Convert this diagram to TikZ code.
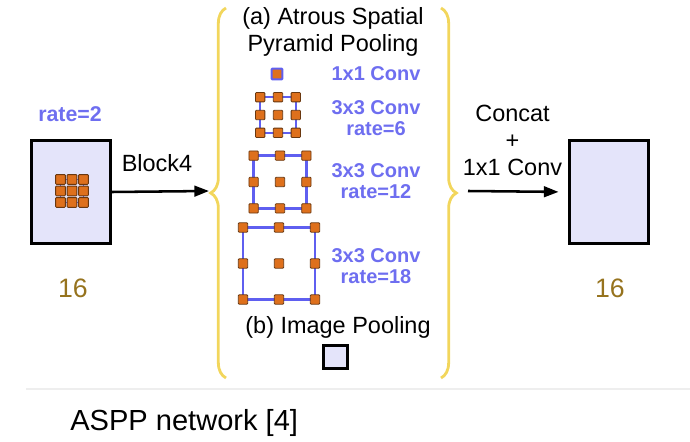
\documentclass[tikz,border=0pt]{standalone}
\usepackage{fontspec}
\setmainfont{Liberation Sans}
\usetikzlibrary{arrows.meta,decorations.pathreplacing}
\definecolor{mapfill}{RGB}{228,228,250}
\definecolor{taporange}{RGB}{222,112,28}
\definecolor{tapedge}{RGB}{105,55,15}
\definecolor{gridblue}{RGB}{95,95,240}
\definecolor{convblue}{RGB}{110,110,240}
\definecolor{sizebrown}{RGB}{150,115,30}
\definecolor{braceyellow}{RGB}{242,214,92}
\definecolor{sepgray}{RGB}{238,238,238}

\begin{document}
\begin{tikzpicture}[x=0.75pt,y=-0.75pt,
	featmap/.style={draw=black,line width=2.2pt,fill=mapfill,inner sep=0pt},
	tap/.style={draw=tapedge,fill=taporange,line width=0.6pt,minimum size=7pt,inner sep=0pt,rounded corners=0.6pt},
	tapline/.style={draw=gridblue,line width=1.7pt},
	convlbl/.style={text=convblue,font=\bfseries\fontsize{15}{16.2}\selectfont,align=center},
	plainlbl/.style={font=\fontsize{17.6}{20.3}\selectfont,align=center},
	sizelbl/.style={text=sizebrown,font=\fontsize{20}{24}\selectfont},
	fwd/.style={line width=1.9pt,-{Triangle[length=11pt,width=8pt]}},
	branch/.style={draw=braceyellow,line width=2.1pt,decorate,decoration={brace,amplitude=11.5pt}}]
	\useasboundingbox (0,0) rectangle (690,442);
	\node[featmap,minimum width=59.5pt,minimum height=77.5pt] (inmap) at (71,192) {};
	\draw[draw=gridblue,line width=0.6pt] (60.5,179.5) rectangle (83.5,202.5);
	\foreach \i in {-1,0,1}
		\foreach \j in {-1,0,1}
			\node[tap,minimum size=7.3pt] (r2\i\j) at (72+11.5*\i,191+11.5*\j) {};
	\node[convlbl,font=\bfseries\fontsize{16}{18}\selectfont] (ratein) at (70,114) {rate=2};
	\node[sizelbl] (insize) at (73,288) {16};
	\coordinate (lbtip) at (209,191);
	\draw[fwd] (inmap.east) -- (lbtip);
	\node[plainlbl] (blocklbl) at (157,163) {Block4};
	\draw[branch] (226,378) -- (226,8);
	\node[plainlbl] (asppttl) at (333,32) {(a) Atrous Spatial\\Pyramid Pooling};
	\node[tap,draw=gridblue,line width=1.6pt,minimum size=8pt] (r1) at (277,74) {};
	\foreach \nm/\cx/\cy/\s in {r6/278/115/17.8, r12/280/182/26.4, r18/279/263.5/36}{
		\draw[tapline] (\cx-\s,\cy-\s) rectangle (\cx+\s,\cy+\s);
		\foreach \i in {-1,0,1}
			\foreach \j in {-1,0,1}
				\node[tap] (\nm\i\j) at (\cx+\s*\i,\cy+\s*\j) {};
	}
	\node[convlbl] (c1lbl) at (376,74) {1x1 Conv};
	\node[convlbl] (c6lbl) at (376,118) {3x3 Conv\\rate=6};
	\node[convlbl] (c12lbl) at (376,181) {3x3 Conv\\rate=12};
	\node[convlbl] (c18lbl) at (376,266) {3x3 Conv\\rate=18};
	\node[plainlbl] (poolttl) at (338,327) {(b) Image Pooling};
	\node[featmap,minimum width=18.5pt,minimum height=17.5pt] (poolmap) at (335.5,357) {};
	\draw[branch] (441,8) -- (441,378);
	\coordinate (rbtip) at (468,191);
	\node[plainlbl] (mergelbl) at (512.5,140) {Concat\\+\\1x1 Conv};
	\node[featmap,minimum width=59.5pt,minimum height=77.5pt] (outmap) at (609,192) {};
	\draw[fwd,shorten >=7pt] (rbtip) -- (outmap.west);
	\node[sizelbl] (outsize) at (610,288) {16};
	\draw[sepgray,line width=1.5pt] (26,389) -- (690,389);
	\node[font=\fontsize{21.8}{26}\selectfont,anchor=west,inner sep=0pt] (caption) at (70,423) {ASPP network [4]};
\end{tikzpicture}
\end{document}
